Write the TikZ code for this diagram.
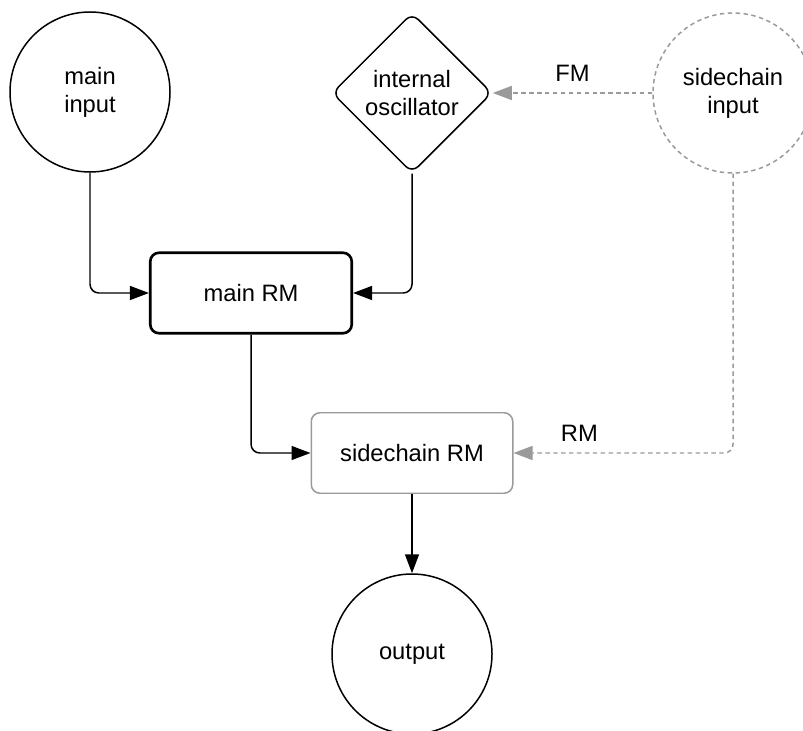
\documentclass[tikz,border=0pt]{standalone}
\usepackage{fontspec}
\setmainfont{Liberation Sans}
\usetikzlibrary{arrows.meta,shapes.geometric}
\definecolor{sidegray}{HTML}{9A9A9A}

\begin{document}
\begin{tikzpicture}[line width=0.85pt,>={Triangle[length=3.8mm,width=2.8mm]},
  every node/.style={font=\fontsize{13.5}{16}\selectfont,align=center},
  iocirc/.style={draw,circle,minimum size=3.2cm,inner sep=0pt},
  rmbox/.style={draw,rounded corners=5pt,minimum width=4.03cm,minimum height=1.61cm},
  sideline/.style={sidegray,dash pattern=on 2.5pt off 2pt}]
  \useasboundingbox (0,0) rectangle (16.06,-14.62);
  % entradas y oscilador
  \node[iocirc] (mainin) at (1.8,-1.84) {main\\input};
  \node[draw,diamond,rounded corners=5pt,minimum width=3.2cm,minimum height=3.2cm,inner sep=0pt] (osc) at (8.24,-1.86) {internal\\oscillator};
  \node[iocirc,sideline,text=black] (scin) at (14.66,-1.86) {sidechain\\input};
  % moduladores
  \node[rmbox,line width=1.5pt] (mainrm) at (5.02,-5.86) {main RM};
  \node[rmbox,draw=sidegray] (scrm) at (8.24,-9.06) {sidechain RM};
  \node[iocirc] (out) at (8.24,-13.08) {output};
  % conexiones
  \draw[->,rounded corners=5pt] (mainin.south) |- (mainrm.west);
  \draw[->,rounded corners=5pt] (osc.south) |- (mainrm.east);
  \draw[->,rounded corners=5pt] (mainrm.south) |- (scrm.west);
  \draw[->] (scrm.south) -- (out.north);
  \draw[->,sideline] (scin.west) -- node[above=3pt,black]{FM} (osc.east);
  \draw[->,sideline,rounded corners=5pt] (scin.south) |- node[pos=0.85,above=3pt,black]{RM} (scrm.east);
\end{tikzpicture}
\end{document}
